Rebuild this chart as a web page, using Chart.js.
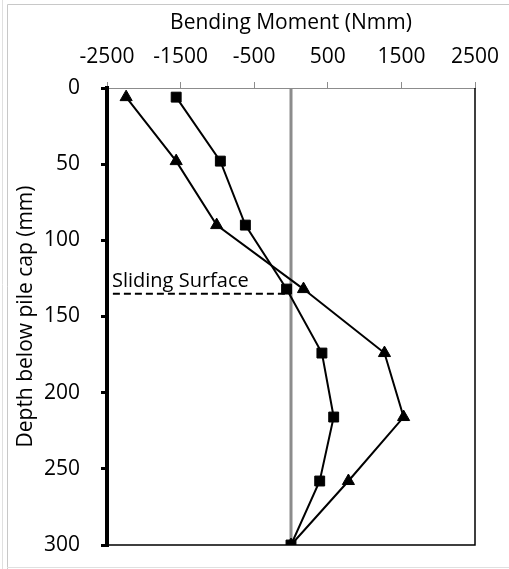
<!DOCTYPE html>
<html>
<head>
<meta charset="utf-8">
<script src="https://cdn.jsdelivr.net/npm/chart.js@4"></script>
<style>
  html, body { margin: 0; padding: 0; background: #fff; }
  canvas { display: block; }
</style>
</head>
<body>
<canvas id="moment-chart" width="509" height="569"></canvas>
<script>
// depth below pile cap (mm) and bending moment (Nmm) for the two series
const depth = [6, 48, 90, 132, 174, 216, 258, 300];
const momentSquare = [-1560, -960, -620, -60, 420, 580, 390, 0];
const momentTriangle = [-2240, -1560, -1010, 170, 1270, 1530, 780, 0];
const xTickValues = [-2500, -1500, -500, 500, 1500, 2500];
const slidingDepth = 135;
const slidingLine = [-2420, 0];

const FONT = '"Open Sans", "Liberation Sans", sans-serif';

function toPoints(xs) {
  return xs.map((v, i) => ({ x: v, y: depth[i] }));
}

const extras = {
  id: "extras",
  beforeDatasetsDraw(chart) {
    const { ctx, chartArea: a, scales } = chart;
    const x0 = scales.x.getPixelForValue(0);
    ctx.save();
    // zero moment line
    ctx.strokeStyle = "#8c8c8c";
    ctx.lineWidth = 3;
    ctx.beginPath();
    ctx.moveTo(x0, a.top);
    ctx.lineTo(x0, a.bottom);
    ctx.stroke();
    // plot area border (right + bottom)
    ctx.strokeStyle = "#000";
    ctx.lineWidth = 1.5;
    ctx.beginPath();
    ctx.moveTo(a.left, a.bottom);
    ctx.lineTo(a.right, a.bottom);
    ctx.lineTo(a.right, a.top);
    ctx.stroke();
    // sliding surface label
    ctx.fillStyle = "#000";
    ctx.font = "20px " + FONT;
    ctx.textBaseline = "alphabetic";
    ctx.fillText("Sliding Surface", a.left + 5, scales.y.getPixelForValue(slidingDepth) - 7);
    ctx.restore();
  },
  afterDraw(chart) {
    const { ctx, width, height } = chart;
    ctx.save();
    ctx.lineWidth = 1;
    ctx.strokeStyle = "#c8c8c8";
    ctx.beginPath();
    ctx.moveTo(7.5, height);
    ctx.lineTo(7.5, 4.5);
    ctx.lineTo(width, 4.5);
    ctx.stroke();
    ctx.strokeStyle = "#e0e0e0";
    ctx.beginPath();
    ctx.moveTo(2.5, 0);
    ctx.lineTo(2.5, height);
    ctx.moveTo(7, height - 1.5);
    ctx.lineTo(width, height - 1.5);
    ctx.stroke();
    ctx.restore();
  },
};

const ctx = document.getElementById("moment-chart").getContext("2d");
new Chart(ctx, {
  type: "scatter",
  data: {
    datasets: [
      {
        label: "Series 1",
        data: toPoints(momentSquare),
        showLine: true,
        borderColor: "#000",
        borderWidth: 2,
        pointStyle: "rect",
        pointRadius: 7,
        pointBackgroundColor: "#000",
        pointBorderColor: "#000",
        pointBorderWidth: 1,
      },
      {
        label: "Series 2",
        data: toPoints(momentTriangle),
        showLine: true,
        borderColor: "#000",
        borderWidth: 2,
        pointStyle: "triangle",
        pointRadius: 7,
        pointBackgroundColor: "#000",
        pointBorderColor: "#000",
        pointBorderWidth: 1,
      },
      {
        label: "Sliding Surface",
        data: slidingLine.map((v) => ({ x: v, y: slidingDepth })),
        showLine: true,
        borderColor: "#000",
        borderWidth: 2,
        borderDash: [7, 4],
        pointRadius: 0,
      },
    ],
  },
  options: {
    responsive: false,
    animation: false,
    layout: { autoPadding: false, padding: { left: 12, top: 0, right: 34, bottom: 24 } },
    plugins: {
      legend: { display: false },
      tooltip: { enabled: false },
    },
    scales: {
      x: {
        type: "linear",
        position: "top",
        min: -2500,
        max: 2500,
        afterBuildTicks: (s) => {
          s.ticks = xTickValues.map((v) => ({ value: v }));
        },
        afterFit: (s) => {
          s.height = 88;
          s.paddingLeft = 0;
          s.paddingRight = 0;
        },
        grid: { drawOnChartArea: false, drawTicks: true, tickLength: 6, color: "#8c8c8c", lineWidth: 1 },
        border: { color: "#8c8c8c", width: 1 },
        ticks: {
          color: "#000",
          padding: 14,
          font: { family: FONT, size: 21, lineHeight: 1 },
          callback: (v) => String(v),
        },
        title: {
          display: true,
          text: "Bending Moment (Nmm)",
          color: "#000",
          padding: { top: 13, bottom: 0 },
          font: { family: FONT, size: 21, lineHeight: 1 },
        },
      },
      y: {
        type: "linear",
        reverse: true,
        min: 0,
        max: 300,
        afterFit: (s) => {
          s.width = 95;
          s.paddingTop = 0;
          s.paddingBottom = 0;
        },
        grid: { drawOnChartArea: false, drawTicks: true, tickLength: 6, color: "#000", lineWidth: 3 },
        border: { color: "#000", width: 4 },
        ticks: {
          stepSize: 50,
          color: "#000",
          padding: 21,
          font: { family: FONT, size: 21, lineHeight: 1 },
          callback: (v) => String(v),
        },
        title: {
          display: true,
          text: "Depth below pile cap (mm)",
          color: "#000",
          padding: { top: 4, bottom: 0 },
          font: { family: FONT, size: 21, lineHeight: 1 },
        },
      },
    },
  },
  plugins: [extras],
});
</script>
</body>
</html>
